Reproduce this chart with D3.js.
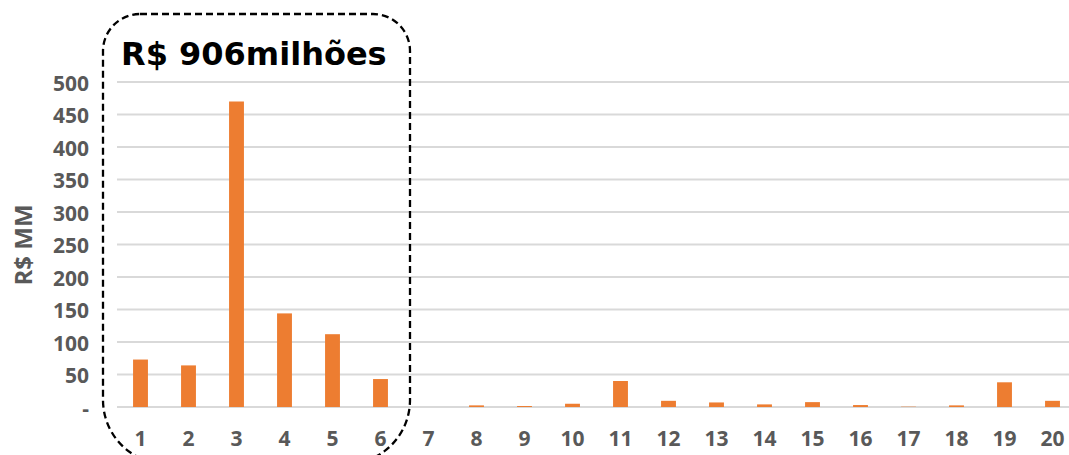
<!DOCTYPE html>
<html><head><meta charset="utf-8">
<script src="https://cdn.jsdelivr.net/npm/d3@7"></script>
<style>body{margin:0;background:#fff;}svg{display:block;}</style>
</head><body>
<svg id="c" width="1069" height="455"></svg>
<script>
const categories = ["1","2","3","4","5","6","7","8","9","10","11","12","13","14","15","16","17","18","19","20"];
const values = [73, 64, 470, 144, 112, 43, 0, 2.5, 1.5, 5, 40, 9.5, 7, 4, 7.5, 3, 0.5, 2.5, 38, 9.5];
const yTicks = [0, 50, 100, 150, 200, 250, 300, 350, 400, 450, 500];
const yTickLabels = ["-", "50", "100", "150", "200", "250", "300", "350", "400", "450", "500"];
const title = "R$ 906milhões";
const yTitle = "R$ MM";

(function(){
const svg = d3.select("#c");
const pLeft = 116.5, pRight = 1076.5, pTop = 82, pBottom = 407;
const x = d3.scaleBand().domain(categories).range([pLeft, pRight]).paddingInner(0.69).paddingOuter(0.345);
const y = d3.scaleLinear().domain([0, 500]).range([pBottom, pTop]);
const font = "'Open Sans', sans-serif";

svg.append("g").selectAll("line").data(yTicks).join("line")
  .attr("x1", 117).attr("x2", 1069)
  .attr("y1", d => y(d)).attr("y2", d => y(d))
  .attr("stroke", "#d9d9d9").attr("stroke-width", 2);

svg.append("g").selectAll("rect").data(values).join("rect")
  .attr("x", (d, i) => x(categories[i]))
  .attr("width", x.bandwidth())
  .attr("y", d => y(d))
  .attr("height", d => pBottom - y(d))
  .attr("fill", "#ed7d31");

const yAxis = d3.axisLeft(y).tickValues(yTicks).tickSize(0).tickPadding(0)
  .tickFormat((d, i) => yTickLabels[i]);
const gy = svg.append("g").attr("transform", "translate(89,1)").call(yAxis);
gy.select(".domain").remove();
gy.selectAll("text").attr("font-family", font).attr("font-weight", 700)
  .attr("font-size", 21).attr("fill", "#595959").attr("dy", "0.35em");

const xAxis = d3.axisBottom(x).tickSize(0).tickPadding(0);
const gx = svg.append("g").attr("transform", "translate(0,445.5)").call(xAxis);
gx.select(".domain").remove();
gx.selectAll("text").attr("font-family", font).attr("font-weight", 700)
  .attr("font-size", 21).attr("fill", "#595959").attr("dy", 0);

svg.append("text").attr("transform", "translate(32,245) rotate(-90)")
  .attr("text-anchor", "middle").attr("font-family", font).attr("font-weight", 700)
  .attr("font-size", 24).attr("fill", "#595959").text(yTitle);

// dashed rounded frame: top corners r=37, bottom corners r=64
const L = 103, R = 410, T = 14, B = 464, rt = 37, rb = 64;
const p = d3.path();
p.moveTo(L + rt, T);
p.lineTo(R - rt, T);
p.arcTo(R, T, R, T + rt, rt);
p.lineTo(R, B - rb);
p.arcTo(R, B, R - rb, B, rb);
p.lineTo(L + rb, B);
p.arcTo(L, B, L, B - rb, rb);
p.lineTo(L, T + rt);
p.arcTo(L, T, L + rt, T, rt);
p.closePath();
svg.append("path").attr("d", p.toString()).attr("fill", "none").attr("stroke", "#000")
  .attr("stroke-width", 2.3).attr("stroke-dasharray", "7,4");

svg.append("text").attr("x", 121).attr("y", 65).attr("font-family", "'DejaVu Sans', sans-serif")
  .attr("font-weight", 700).attr("font-size", 32).attr("fill", "#000").text(title);
})();
</script>
</body></html>
